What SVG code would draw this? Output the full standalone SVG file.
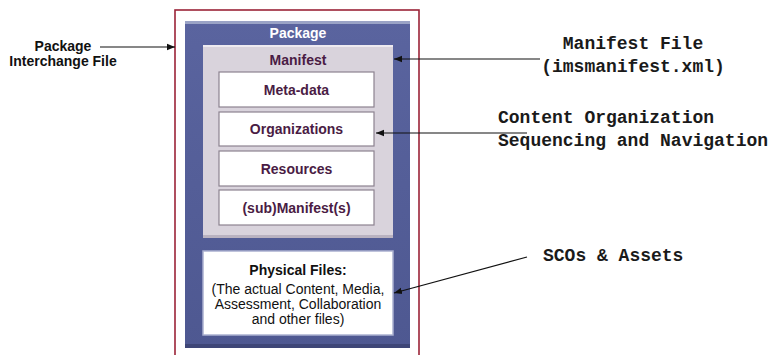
<svg xmlns="http://www.w3.org/2000/svg" width="770" height="355" viewBox="0 0 770 355">
  <defs>
    <style>
      .sans { font-family: "Liberation Sans", Arial, sans-serif; font-weight: bold; }
      .mono { font-family: "Liberation Mono", "Courier New", monospace; font-weight: bold; font-size: 18px; fill: #1a1a1a; }
      .item { fill: #ffffff; stroke: #8c8290; stroke-width: 1.2; }
      .itemText { font-size: 14px; fill: #4a1c44; text-anchor: middle; }
      .conn { stroke: #111; stroke-width: 1.2; fill: none; marker-end: url(#arrow); }
    </style>
    <marker id="arrow" viewBox="0 0 10 10" refX="10" refY="5" markerWidth="8" markerHeight="8" markerUnits="userSpaceOnUse" orient="auto">
      <path d="M0,1 L10,5 L0,9 Z" fill="#111"/>
    </marker>
    <linearGradient id="pkgGrad" x1="0" y1="0" x2="0" y2="1">
      <stop offset="0" stop-color="#5a649f"/>
      <stop offset="1" stop-color="#4e5891"/>
    </linearGradient>
  </defs>

  <rect width="770" height="355" fill="#ffffff"/>

  <!-- interchange file outline -->
  <g id="interchange-file">
    <rect x="175" y="10" width="244" height="360" fill="#ffffff" stroke="#9b2338" stroke-width="1.6"/>
  </g>

  <!-- package -->
  <g id="package">
    <rect x="185" y="21" width="225" height="327" fill="url(#pkgGrad)"/>
    <rect x="185" y="21" width="225" height="3" fill="#9aa3c6"/>
    <rect x="185" y="344" width="225" height="4" fill="#3e4677"/>
    <text x="298" y="38" class="sans" font-size="14" fill="#ffffff" text-anchor="middle">Package</text>
  </g>

  <!-- manifest -->
  <g id="manifest">
    <rect x="203" y="45" width="190" height="193" fill="#d9d3dc"/>
    <rect x="203" y="45" width="190" height="2" fill="#eeeaf0"/>
    <rect x="203" y="235" width="190" height="3" fill="#b9b2c0"/>
    <text x="298" y="65" class="sans itemText">Manifest</text>
  </g>

  <g id="meta-data">
    <rect x="219" y="72" width="155" height="35" class="item"/>
    <text x="296.5" y="95" class="sans itemText">Meta-data</text>
  </g>

  <g id="organizations">
    <rect x="219" y="112" width="155" height="34" class="item"/>
    <text x="296.5" y="134" class="sans itemText">Organizations</text>
  </g>

  <g id="resources">
    <rect x="219" y="151" width="155" height="35" class="item"/>
    <text x="296.5" y="174" class="sans itemText">Resources</text>
  </g>

  <g id="sub-manifests">
    <rect x="219" y="190" width="155" height="35" class="item"/>
    <text x="296.5" y="213" class="sans itemText">(sub)Manifest(s)</text>
  </g>

  <g id="physical-files">
    <rect x="203" y="251" width="190" height="84" fill="#ffffff" stroke="#aab0d0" stroke-width="1.5"/>
    <text x="298" y="275" class="sans" font-size="14" fill="#111" text-anchor="middle">Physical Files:</text>
    <text x="298" y="294" font-family="Liberation Sans, Arial, sans-serif" font-size="14" fill="#111" text-anchor="middle">(The actual Content, Media,</text>
    <text x="298" y="309" font-family="Liberation Sans, Arial, sans-serif" font-size="14" fill="#111" text-anchor="middle">Assessment, Collaboration</text>
    <text x="298" y="324" font-family="Liberation Sans, Arial, sans-serif" font-size="14" fill="#111" text-anchor="middle">and other files)</text>
  </g>

  <!-- callout labels -->
  <g id="label-interchange">
    <text x="63" y="51" class="sans" font-size="14" fill="#111" text-anchor="middle">Package</text>
    <text x="63" y="66" class="sans" font-size="14" fill="#111" text-anchor="middle">Interchange File</text>
  </g>

  <g id="label-manifest-file">
    <text x="633" y="49" class="mono" text-anchor="middle">Manifest File</text>
    <text x="633" y="72" class="mono" text-anchor="middle">(imsmanifest.xml)</text>
  </g>

  <g id="label-content-org">
    <text x="498" y="123" class="mono">Content Organization</text>
    <text x="498" y="146" class="mono">Sequencing and Navigation</text>
  </g>

  <g id="label-scos">
    <text x="543" y="261" class="mono">SCOs &amp; Assets</text>
  </g>

  <!-- connectors -->
  <g id="connectors">
    <line x1="100" y1="47" x2="175" y2="47" class="conn"/>
    <line x1="540" y1="59" x2="394" y2="59" class="conn"/>
    <line x1="527" y1="133" x2="376" y2="133" class="conn"/>
    <line x1="527" y1="257" x2="394" y2="293" class="conn"/>
  </g>
</svg>
